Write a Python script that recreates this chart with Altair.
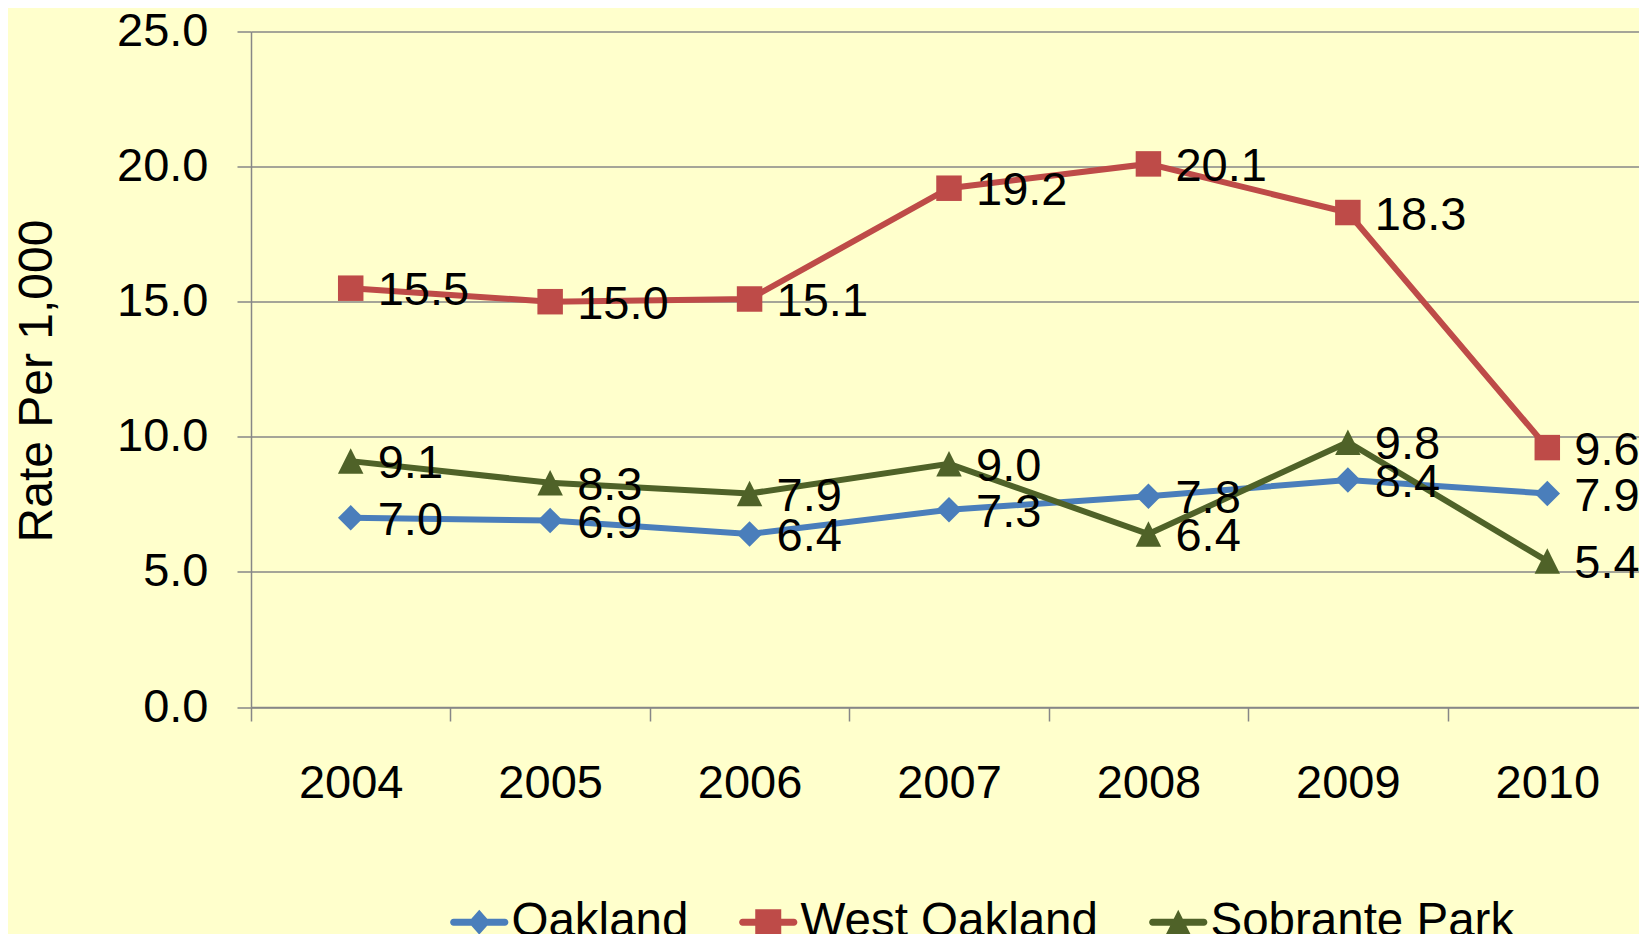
import altair as alt
import pandas as pd

FONT = "Liberation Sans"
GRAY = "#878787"

years = ["2004", "2005", "2006", "2007", "2008", "2009", "2010"]
series_names = ["Oakland", "West Oakland", "Sobrante Park"]
oakland = [7.0, 6.9, 6.4, 7.3, 7.8, 8.4, 7.9]
west_oakland = [15.5, 15.0, 15.1, 19.2, 20.1, 18.3, 9.6]
sobrante_park = [9.1, 8.3, 7.9, 9.0, 6.4, 9.8, 5.4]
colors = ["#4A7EBB", "#BE4B48", "#4F6228"]
y_ticks = [0, 5, 10, 15, 20, 25]

rows = []
for name, vals in zip(series_names, [oakland, west_oakland, sobrante_park]):
    for yr, v in zip(years, vals):
        rows.append({"year": yr, "series": name, "value": v})
df = pd.DataFrame(rows)

# marker shapes
TRI = "M0,-1L1,1L-1,1Z"
marker_shapes = {"Oakland": "diamond", "West Oakland": "square", "Sobrante Park": TRI}
series_colors = dict(zip(series_names, colors))

# legend symbols: line + marker
LINE = "M-2.05,-0.28L2.05,-0.28A0.28,0.28 0 0 1 2.05,0.28L-2.05,0.28A0.28,0.28 0 0 1 -2.05,-0.28Z"
legend_shapes = [
    LINE + "M0,-1L0.88,0L0,1L-0.88,0Z",
    LINE + "M-1.04,-1.04L1.04,-1.04L1.04,1.04L-1.04,1.04Z",
    LINE + "M0,-1L1,1L-1,1Z",
]

color_scale = alt.Scale(domain=series_names, range=colors)

x_enc = alt.X(
    "year:O",
    sort=years,
    bandPosition=0.5,
    scale=alt.Scale(type="band", domain=years, paddingInner=0, paddingOuter=0, range=[0, 1396]),
    axis=alt.Axis(
        title=None,
        labelAngle=0,
        tickBand="extent",
        tickSize=14,
        tickColor=GRAY,
        tickWidth=1.5,
        domainColor=GRAY,
        domainWidth=1.5,
        grid=False,
        labelFont=FONT,
        labelFontSize=47,
        labelColor="black",
        labelPadding=39,
    ),
)
y_enc = alt.Y(
    "value:Q",
    scale=alt.Scale(domain=[0, 25], nice=False, zero=True),
    axis=alt.Axis(
        values=y_ticks,
        format=".1f",
        grid=True,
        gridColor=GRAY,
        gridWidth=1.5,
        domainColor=GRAY,
        domainWidth=1.5,
        tickColor=GRAY,
        tickWidth=1.5,
        tickSize=14,
        labelFont=FONT,
        labelFontSize=47,
        labelColor="black",
        labelPadding=29,
        labelFlush=False,
        title="Rate Per 1,000",
        titleFont=FONT,
        titleFontSize=48,
        titleFontWeight="normal",
        titleColor="black",
        titleAngle=270,
        titleX=-200,
        titleY=349,
        titleAlign="center",
        titleBaseline="alphabetic",
    ),
)

base = alt.Chart(df).encode(x=x_enc, y=y_enc)

leg = dict(
    orient="none",
    direction="horizontal",
    title=None,
    legendX=204.5,
    legendY=866.5,
    padding=0,
    columnPadding=50,
    labelOffset=8.5,
    labelFont=FONT,
    labelFontSize=47.5,
    labelColor="black",
    labelLimit=1000,
    symbolSize=625,
    symbolStrokeWidth=0,
    symbolOpacity=1,
)

legend_layer = alt.Chart(df).mark_point(
    filled=True, opacity=1, strokeWidth=0, size=625, clip=True
).encode(
    x=x_enc,
    y=alt.value(-2000),
    color=alt.Color("series:N", scale=color_scale, legend=alt.Legend(**leg)),
    shape=alt.Shape(
        "series:N",
        scale=alt.Scale(domain=series_names, range=legend_shapes),
        legend=alt.Legend(**leg),
    ),
)

line_layers = []
point_layers = []
for name in series_names:
    sub = base.transform_filter(alt.datum.series == name)
    line_layers.append(sub.mark_line(strokeWidth=6, color=series_colors[name]))
    point_layers.append(
        sub.mark_point(
            filled=True, opacity=1, strokeWidth=0, size=650,
            shape=marker_shapes[name], color=series_colors[name],
        )
    )

labels = base.mark_text(
    align="left", baseline="middle", dx=27, dy=3, fontSize=47, font=FONT, color="black"
).encode(text=alt.Text("value:Q", format=".1f"))

chart = (
    alt.layer(legend_layer, *line_layers, *point_layers, labels)
    .properties(
        width=1388,
        height=675.5,
        autosize=alt.AutoSizeParams(type="none"),
        padding={"left": 243, "top": 23.5, "right": 0, "bottom": 227},
        background="#FFFFCC",
    )
    .configure_view(stroke=None)
)

chart.save("out.html", embed_options={"renderer": "svg", "actions": False})
